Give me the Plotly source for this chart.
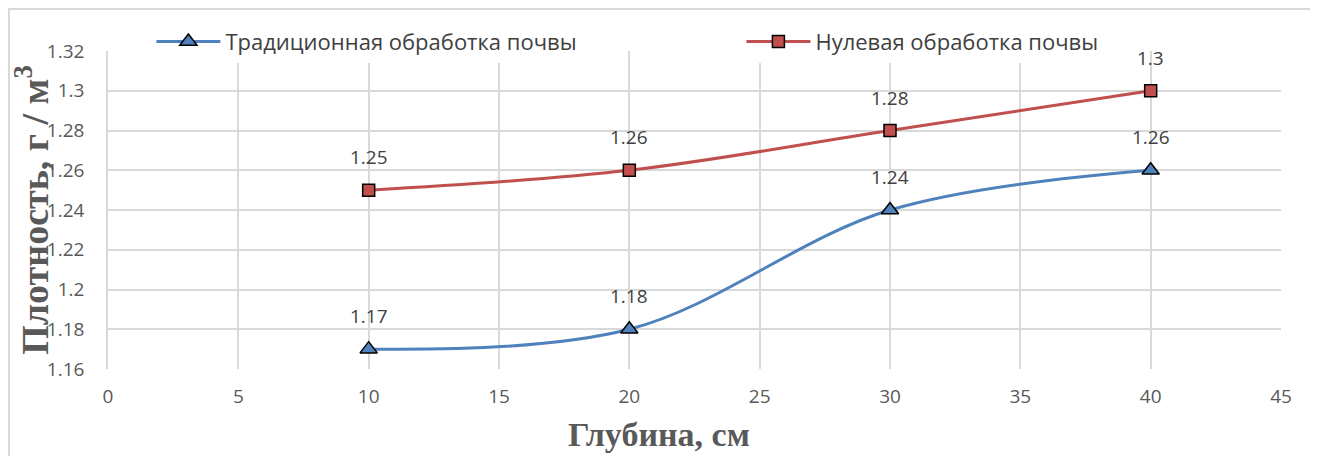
import plotly.graph_objects as go

depth = [10, 20, 30, 40]
traditional = [1.17, 1.18, 1.24, 1.26]
zero_till = [1.25, 1.26, 1.28, 1.30]
y_ticks = [1.16, 1.18, 1.20, 1.22, 1.24, 1.26, 1.28, 1.30, 1.32]
y_ticktext = ["1.16", "1.18", "1.2", "1.22", "1.24", "1.26", "1.28", "1.3", "1.32"]

fig = go.Figure()

fig.add_trace(go.Scatter(
    x=depth, y=traditional, name="Традиционная обработка почвы", legend="legend",
    mode="lines+markers", line=dict(color="#4F81BD", width=3, shape="spline", smoothing=1),
    marker=dict(symbol="triangle-up", size=15, color="#4F81BD", line=dict(color="black", width=1.5)),
))
fig.add_trace(go.Scatter(
    x=depth, y=zero_till, name="Нулевая обработка почвы", legend="legend2",
    mode="lines+markers", line=dict(color="#C0504D", width=3, shape="spline", smoothing=1),
    marker=dict(symbol="square", size=12, color="#C0504D", line=dict(color="black", width=1.5)),
))

# value labels above points
for xs, ys in [(depth, traditional), (depth, zero_till)]:
    for x, y in zip(xs, ys):
        fig.add_annotation(x=x, y=y, text=f"{y:g}", showarrow=False, yshift=33,
                           font=dict(family="Open Sans", size=19, color="#404040"))

# x axis title (sits a bit left of centre in the original)
fig.add_annotation(xref="paper", yref="paper", x=0.47, y=-0.205, yanchor="middle",
                   text="<b>Глубина, см</b>", showarrow=False,
                   font=dict(family="Liberation Serif", size=34, color="#595959"))

# outer chart border
fig.add_shape(type="rect", xref="paper", yref="paper", x0=-0.0844, x1=1.2, y0=-0.5, y1=1.132,
              line=dict(color="#D9D9D9", width=2), layer="below")

leg_font = dict(family="Open Sans", size=22, color="#404040")
fig.update_layout(
    width=1310, height=448,
    margin=dict(l=100, r=37, t=43, b=87, autoexpand=False),
    paper_bgcolor="white", plot_bgcolor="white",
    font=dict(family="Open Sans", size=19, color="#595959"),
    legend=dict(orientation="h", x=0.037, y=1.095, xanchor="left", yanchor="top",
                bgcolor="white", font=leg_font, itemwidth=64),
    legend2=dict(orientation="h", x=0.54, y=1.095, xanchor="left", yanchor="top",
                 bgcolor="white", font=leg_font, itemwidth=64),
    showlegend=True,
    xaxis=dict(range=[0, 45], tick0=0, dtick=5, showgrid=True, gridcolor="#D9D9D9", gridwidth=1.5,
               zeroline=False, showline=False, ticks="", ticklabelstandoff=14, automargin=False),
    yaxis=dict(range=[1.16, 1.32], tickvals=y_ticks, ticktext=y_ticktext, showgrid=True,
               gridcolor="#D9D9D9", gridwidth=1.5, zeroline=False, showline=True, linecolor="#D9D9D9",
               linewidth=1.5, ticks="", ticklabelstandoff=18, automargin=False,
               title=dict(text="Плотность, г / м<sup>3</sup>", standoff=4,
                          font=dict(family="Liberation Serif", size=38, color="#595959", weight="bold"))),
)

fig.write_html("out.html")
